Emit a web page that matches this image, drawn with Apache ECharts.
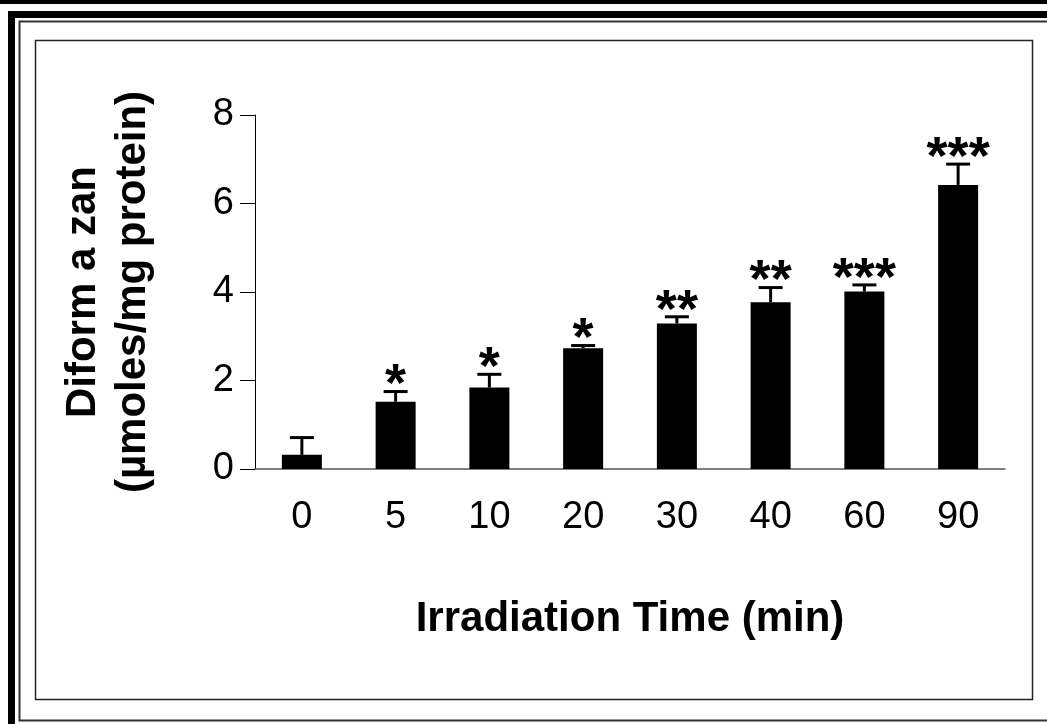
<!DOCTYPE html>
<html>
<head>
<meta charset="utf-8">
<script src="https://cdn.jsdelivr.net/npm/echarts@6/dist/echarts.min.js"></script>
<style>
    html, body { margin: 0; padding: 0; background: #fff; }
    #chart { width: 1047px; height: 724px; }
</style>
</head>
<body>
<div id="chart"></div>
<script>
// irradiation time groups and diformazan values (µmoles/mg protein)
const categories = ["0", "5", "10", "20", "30", "40", "60", "90"];
const means = [0.32, 1.52, 1.84, 2.73, 3.29, 3.77, 4.01, 6.42];
const errors = [0.39, 0.23, 0.3, 0.06, 0.15, 0.33, 0.15, 0.47];
const stars = ["", "*", "*", "*", "**", "**", "***", "***"];
const yTicks = [0, 2, 4, 6, 8];

const font = "Liberation Sans";

let chart = echarts.init(document.getElementById("chart"));

let option = {
    animation: false,
    textStyle: { fontFamily: font, color: "#000" },
    grid: {
        left: 255,
        right: 42,
        top: 115,
        bottom: 255,
    },
    xAxis: {
        type: "category",
        data: categories,
        axisLine: { lineStyle: { color: "#555", width: 1.5 } },
        axisTick: { length: 14, lineStyle: { color: "#222", width: 1 } },
        axisLabel: { fontSize: 38, color: "#000", margin: 30 },
        name: "Irradiation Time (min)",
        nameLocation: "middle",
        nameGap: 129,
        nameTextStyle: {
            fontSize: 42,
            fontWeight: "bold",
            color: "#000",
            verticalAlign: "top",
        },
    },
    yAxis: {
        type: "value",
        min: yTicks[0],
        max: yTicks[yTicks.length - 1],
        interval: 2,
        splitLine: { show: false },
        axisLine: { show: true, lineStyle: { color: "#000", width: 1 } },
        axisTick: { show: true, length: 15, lineStyle: { color: "#000" } },
        axisLabel: { fontSize: 38, color: "#000", margin: 21 },
        name: "Diform a zan\n(µmoles/mg protein)",
        nameLocation: "middle",
        nameGap: 97,
        nameTextStyle: {
            fontSize: 42,
            fontWeight: "bold",
            color: "#000",
            lineHeight: 50,
        },
    },
    series: [
        {
            type: "bar",
            data: means,
            barWidth: 40,
            itemStyle: { color: "#000" },
        },
        {
            type: "custom",
            data: means.map((m, i) => [i, m, errors[i]]),
            z: 5,
            renderItem: function (params, api) {
                let i = api.value(0);
                let base = api.coord([i, api.value(1)]);
                let top = api.coord([i, api.value(1) + api.value(2)]);
                let children = [
                    {
                        type: "line",
                        shape: { x1: base[0], y1: base[1], x2: top[0], y2: top[1] },
                        style: { stroke: "#000", lineWidth: 3 },
                    },
                    {
                        type: "line",
                        shape: { x1: top[0] - 12, y1: top[1], x2: top[0] + 12, y2: top[1] },
                        style: { stroke: "#000", lineWidth: 3 },
                    },
                ];
                let s = stars[params.dataIndex];
                if (s)
                    children.push({
                        type: "text",
                        x: top[0],
                        y: top[1] - 5,
                        style: {
                            text: s,
                            fill: "#000",
                            font: "bold 54px '" + font + "'",
                            align: "center",
                            verticalAlign: "middle",
                        },
                    });
                return { type: "group", children: children };
            },
        },
    ],
    graphic: [
        { type: "rect", shape: { x: 0, y: 0, width: 1047, height: 4 }, style: { fill: "#000" } },
        { type: "rect", shape: { x: 8, y: 11, width: 1039, height: 7 }, style: { fill: "#000" } },
        { type: "rect", shape: { x: 8, y: 11, width: 7, height: 713 }, style: { fill: "#000" } },
        {
            type: "polyline",
            shape: { points: [[1047, 21.5], [19.5, 21.5], [19.5, 720.5], [1047, 720.5]] },
            style: { stroke: "#333", lineWidth: 2, fill: null },
        },
        {
            type: "rect",
            shape: { x: 35.5, y: 40.5, width: 997, height: 659 },
            style: { stroke: "#222", lineWidth: 1.5, fill: null },
        },
    ],
};
chart.setOption(option);
</script>
</body>
</html>
